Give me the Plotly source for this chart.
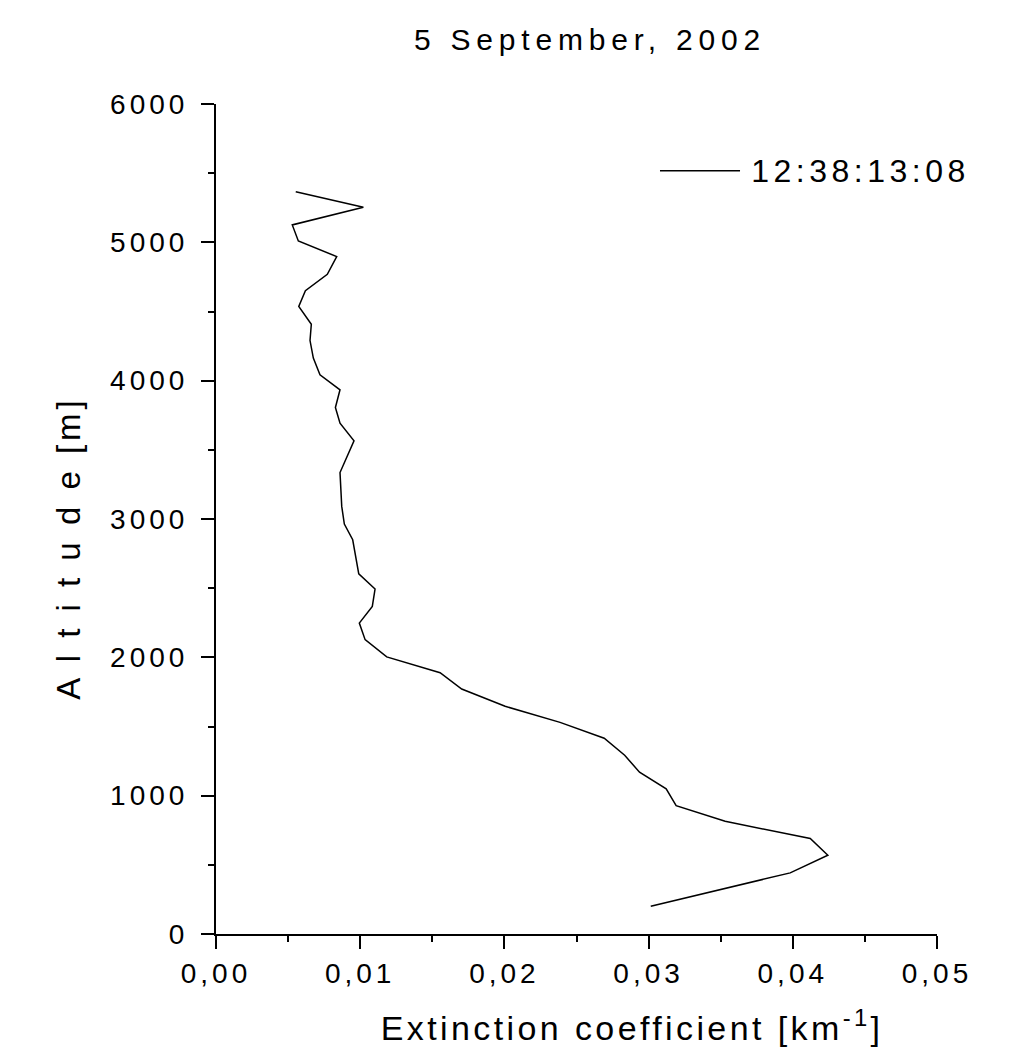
import plotly.graph_objects as go

# Data (extinction coefficient [km^-1] vs altitude [m])
altitude = [5366, 5253, 5126, 5010, 4897, 4769, 4651, 4536, 4408, 4290, 4163, 4042,
            3934, 3806, 3693, 3565, 3336, 3091, 2963, 2850, 2604, 2494, 2368, 2248,
            2128, 2003, 1889, 1771, 1646, 1530, 1415, 1292, 1170, 1049, 928, 815,
            690, 569, 442, 201]
extinction = [0.00553, 0.01022, 0.00529, 0.00571, 0.00837, 0.00772, 0.00620, 0.00574,
              0.00661, 0.00652, 0.00675, 0.00721, 0.00860, 0.00828, 0.00860, 0.00957,
              0.00860, 0.00872, 0.00890, 0.00948, 0.00990, 0.01103, 0.01084, 0.00994,
              0.01034, 0.01184, 0.01554, 0.01704, 0.02005, 0.02386, 0.02692, 0.02834,
              0.02937, 0.03122, 0.03191, 0.03531, 0.04121, 0.04243, 0.03982, 0.03015]
series_name = "12:38:13:08"
x_ticks = [0.00, 0.01, 0.02, 0.03, 0.04, 0.05]
x_ticklabels = ["0,00", "0,01", "0,02", "0,03", "0,04", "0,05"]
y_ticks = [0, 1000, 2000, 3000, 4000, 5000, 6000]
y_ticklabels = ["0", "1000", "2000", "3000", "4000", "5000", "6000"]
title_text = "5 September, 2002"
x_title = "Extinction coefficient [km<sup>-1</sup>]"
y_title = "A l t i t u d e [m]"

FONT = "Liberation Sans, Arial, sans-serif"

fig = go.Figure()
fig.add_trace(go.Scatter(x=extinction, y=altitude, mode="lines", name=series_name,
                         line=dict(color="black", width=1.5), showlegend=False))

axis_common = dict(showline=True, linecolor="black", linewidth=2, ticks="outside",
                   ticklen=13, tickwidth=2, tickcolor="black", showgrid=False,
                   zeroline=False, mirror=False,
                   tickfont=dict(family=FONT, size=28, color="black"))

fig.update_xaxes(range=[0, 0.05], tickvals=x_ticks, ticktext=x_ticklabels,
                 minor=dict(ticks="outside", ticklen=6, tickwidth=2, dtick=0.005,
                            tickcolor="black", showgrid=False),
                 **axis_common)
fig.update_yaxes(range=[0, 6000], tickvals=y_ticks, ticktext=y_ticklabels,
                 minor=dict(ticks="outside", ticklen=6, tickwidth=2, dtick=500,
                            tickcolor="black", showgrid=False),
                 ticklabelstandoff=7,
                 **axis_common)

# Legend drawn manually to match the long sample line
fig.add_shape(type="line", xref="paper", yref="paper", x0=0.6158, x1=0.7268,
              y0=0.9196, y1=0.9196, line=dict(color="black", width=1.5))
fig.add_annotation(xref="paper", yref="paper", x=(860.5 - 216) / 721, y=0.9196,
                   xanchor="center", yanchor="middle", text=series_name, showarrow=False,
                   name="legendtext",
                   font=dict(family=FONT, size=32, color="black"))

fig.add_annotation(xref="paper", yref="paper", x=(632 - 216) / 721, y=-0.110,
                   xanchor="center", yanchor="middle", text=x_title, showarrow=False,
                   font=dict(family=FONT, size=34, color="black"))
fig.add_annotation(xref="paper", yref="paper", x=-0.205, y=0.4645, xanchor="center",
                   yanchor="middle", text=y_title, showarrow=False, textangle=-90,
                   font=dict(family=FONT, size=33, color="black"))

fig.update_layout(
    width=1014, height=1063,
    margin=dict(l=216, r=77, t=104, b=129, autoexpand=False),
    paper_bgcolor="white", plot_bgcolor="white",
    title=dict(text=title_text, x=(590 - 216) / 721, xref="paper", xanchor="center",
               y=1 - 39 / 1063, yref="container", yanchor="middle",
               font=dict(family=FONT, size=30, color="black")),
)

post = """
document.body.style.margin = '0px';
var gd = document.getElementById('{plot_id}');
gd.querySelectorAll('.xtick text, .ytick text').forEach(function(t){t.style.letterSpacing='4px';});
gd.querySelectorAll('.gtitle').forEach(function(t){t.style.letterSpacing='5.8px';});
var ann = gd.querySelectorAll('.annotation-text');
var sp = ['4.5px', '3.4px', '4px'];
ann.forEach(function(t, i){t.style.letterSpacing = sp[i] || '4px';});
"""

fig.write_html("out.html", post_script=post, config={"displayModeBar": False})
